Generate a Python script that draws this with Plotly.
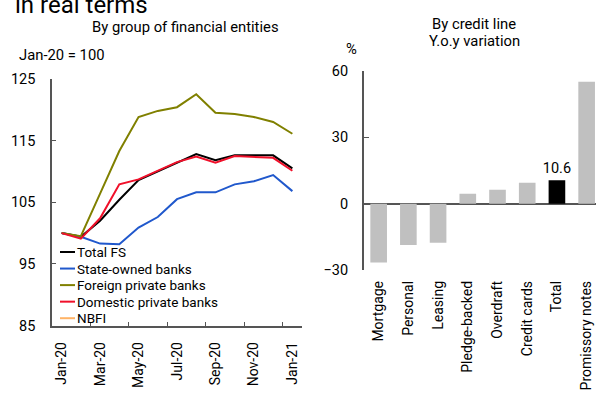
import plotly.graph_objects as go

# ---- Left panel: credit index by group of financial entities (Jan-20 = 100)
months = ["Jan-20", "Feb-20", "Mar-20", "Apr-20", "May-20", "Jun-20", "Jul-20",
          "Aug-20", "Sep-20", "Oct-20", "Nov-20", "Dec-20", "Jan-21"]
total_fs = [100.0, 99.4, 102.0, 105.4, 108.6, 110.0, 111.4, 112.8, 111.8, 112.6, 112.6, 112.6, 110.5]
state_owned = [100.0, 99.4, 98.3, 98.2, 100.9, 102.6, 105.5, 106.6, 106.6, 107.9, 108.4, 109.4, 106.8]
foreign_private = [100.0, 99.5, 106.4, 113.3, 118.8, 119.8, 120.4, 122.5, 119.5, 119.3, 118.8, 118.0, 116.1]
domestic_private = [100.0, 99.1, 102.4, 107.9, 108.7, 110.1, 111.5, 112.4, 111.4, 112.5, 112.4, 112.2, 110.1]
nbfi = []

series = [
    ("Total FS", total_fs, "#000000"),
    ("State-owned banks", state_owned, "#2058CC"),
    ("Foreign private banks", foreign_private, "#808000"),
    ("Domestic private banks", domestic_private, "#F0102A"),
    ("NBFI", nbfi, "#FFB366"),
]

# ---- Right panel: y.o.y variation by credit line (%)
credit_lines = ["Mortgage", "Personal", "Leasing", "Pledge-backed", "Overdraft",
                "Credit cards", "Total", "Promissory notes"]
yoy_variation = [-26.5, -18.6, -17.6, 4.5, 6.3, 9.5, 10.6, 55.1]

W, H = 596, 394
FONT = "Roboto"
AXIS_COLOR = "#555555"


def px_x(p):
    return p / W


def px_y(p):
    return 1 - p / H


fig = go.Figure()

month_idx = list(range(len(months)))
for name, values, color in series:
    fig.add_trace(go.Scatter(
        x=month_idx[:len(values)], y=values, name=name, mode="lines",
        line=dict(color=color, width=2), xaxis="x", yaxis="y", showlegend=False,
    ))

bar_colors = ["#000000" if c == "Total" else "#C0C0C0" for c in credit_lines]
bar_text = [f"{v:.1f}" if c == "Total" else "" for c, v in zip(credit_lines, yoy_variation)]
fig.add_trace(go.Bar(
    x=credit_lines, y=yoy_variation, marker=dict(color=bar_colors, line=dict(width=0)),
    width=0.56, text=bar_text, textposition="outside", cliponaxis=False,
    constraintext="none",
    textfont=dict(size=14.5, color="#000000", family=FONT),
    xaxis="x2", yaxis="y2", showlegend=False,
))

n_months = len(months)
left_dom = [px_x(52), px_x(302)]
left_ydom = [px_y(332), px_y(74)]
right_dom = [px_x(363.8), 1.0]
right_ydom = [px_y(274), px_y(65.7)]

# visible part of the bar category axis (last category is cut by the page edge)
cat_step = (601.5 - 363.8) / len(credit_lines)
right_max = -0.5 + (W - 363.8) / cat_step

fig.update_layout(
    width=W, height=H,
    margin=dict(l=0, r=0, t=0, b=0),
    paper_bgcolor="white", plot_bgcolor="white",
    font=dict(family=FONT, size=14, color="#000000"),
    showlegend=False,
    xaxis=dict(
        domain=left_dom, range=[-0.5, n_months - 0.5], anchor="y",
        tickvals=month_idx[::2], ticktext=months[::2], tickangle=-90,
        ticks="", ticklabelstandoff=9, showline=True, linecolor=AXIS_COLOR, linewidth=1.5,
        showgrid=False, zeroline=False, tickfont=dict(size=14),
    ),
    xaxis3=dict(
        domain=left_dom, range=[-0.5, n_months - 0.5], anchor="y", overlaying="x",
        tickvals=[i + 1.5 for i in month_idx[:-1:2]], ticks="inside", ticklen=4,
        tickcolor=AXIS_COLOR, showticklabels=False, showline=False,
        showgrid=False, zeroline=False,
    ),
    yaxis=dict(
        domain=left_ydom, range=[85, 125], tick0=85, dtick=10, anchor="x",
        ticks="inside", ticklen=4, tickcolor=AXIS_COLOR, ticklabelstandoff=12,
        showline=True, linecolor=AXIS_COLOR, linewidth=1.5,
        showgrid=False, zeroline=False, tickfont=dict(size=14.5),
    ),
    xaxis2=dict(
        domain=right_dom, range=[-0.5, right_max], anchor="y2",
        tickangle=-90, ticks="", ticklabelstandoff=7, showline=False, showgrid=False,
        zeroline=False, tickfont=dict(size=14),
    ),
    yaxis2=dict(
        domain=right_ydom, range=[-30, 60], dtick=30, anchor="x2",
        ticks="inside", ticklen=5, tickcolor=AXIS_COLOR, ticklabelstandoff=11,
        showline=True, linecolor=AXIS_COLOR, linewidth=1.5,
        showgrid=False, zeroline=True, zerolinecolor=AXIS_COLOR, zerolinewidth=1.5,
        tickfont=dict(size=14.5),
    ),
)

# a hidden trace keeps the tick-only overlay axis active
fig.add_trace(go.Scatter(x=[None], y=[None], xaxis="x3", yaxis="y",
                         showlegend=False, hoverinfo="skip"))

# compact legend: short line sample followed by the series name
LEG_X0, LEG_Y0, LEG_STEP = 60, 255, 17.3
for i, (name, _, color) in enumerate(series):
    yy = px_y(LEG_Y0 + i * LEG_STEP)
    fig.add_shape(type="line", xref="paper", yref="paper",
                  x0=px_x(LEG_X0), x1=px_x(LEG_X0 + 15), y0=yy, y1=yy,
                  line=dict(color=color, width=2))
    fig.add_annotation(text=name, x=px_x(LEG_X0 + 15), y=yy, xref="paper", yref="paper",
                       xanchor="left", yanchor="middle", showarrow=False,
                       font=dict(size=13.5, family=FONT, color="#000000"))

notes = [
    ("in real terms", 13, -3, "left", 24),
    ("By group of financial entities", 185, 20, "center", 14.8),
    ("Jan-20 = 100", 17, 49, "left", 14.8),
    ("By credit line", 474, 17, "center", 14.8),
    ("Y.o.y variation", 474, 35, "center", 14.8),
    ("%", 351, 43, "center", 14.8),
]
for text, x, y, align, size in notes:
    fig.add_annotation(
        text=text, x=px_x(x), y=px_y(y), xref="paper", yref="paper",
        xanchor=align, yanchor="middle", showarrow=False,
        font=dict(size=size, family=FONT, color="#000000"),
    )

fig.write_html("out.html")
